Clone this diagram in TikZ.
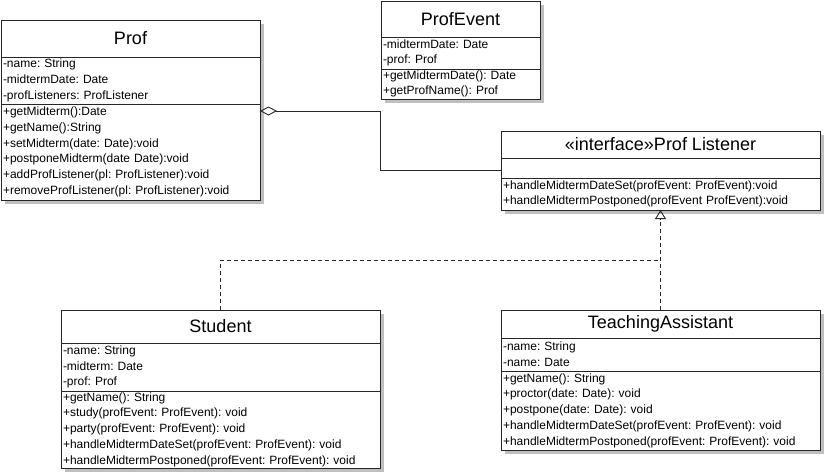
\documentclass[tikz,border=0pt]{standalone}
\usepackage{fontspec}
\setmainfont{Liberation Sans}
\usetikzlibrary{arrows.meta,positioning,shadows}

\newcommand{\titlefont}{\fontsize{18}{20}\selectfont}
\newcommand{\memberfont}{\fontsize{12}{15.7}\selectfont\frenchspacing}

\begin{document}
\begin{tikzpicture}[
    x=1pt, y=-1pt,
    umlbox/.style={draw=black!85, line width=0.9pt, fill=white, inner sep=0pt, outer sep=0pt,
        drop shadow={shadow xshift=4pt, shadow yshift=-4pt, fill=black!25, opacity=1}},
    classname/.style={umlbox, anchor=north west, font=\titlefont},
    members/.style={umlbox, font=\memberfont, align=left, inner xsep=2pt},
    aggr/.style={{Diamond[open,length=17pt,width=9pt]}-, line width=0.9pt, draw=black!85},
    realize/.style={-{Triangle[open,length=9pt,width=11pt]}, line width=0.9pt, draw=black!85, dash pattern=on 4pt off 3pt}
]
    \useasboundingbox[fill=white] (0,0) rectangle (825,475);

    % Prof
    \node[classname, minimum width=259pt, minimum height=37pt] (profT) at (1,20) {Prof};
    \node[members, below=0pt of profT, text width=255pt, minimum height=47pt] (profA)
        {-name: String\\-midtermDate: Date\\-profListeners: ProfListener};
    \node[members, below=0pt of profA, text width=255pt, minimum height=96pt] (profM)
        {+getMidterm():Date\\+getName():String\\+setMidterm(date: Date):void\\+postponeMidterm(date Date):void\\+addProfListener(pl: ProfListener):void\\+removeProfListener(pl: ProfListener):void};

    % ProfEvent
    \node[classname, minimum width=159pt, minimum height=36pt] (evT) at (381,1) {ProfEvent};
    \node[members, below=0pt of evT, text width=155pt, minimum height=32pt] (evA)
        {-midtermDate: Date\\-prof: Prof};
    \node[members, below=0pt of evA, text width=155pt, minimum height=30pt] (evM)
        {+getMidtermDate(): Date\\+getProfName(): Prof};

    % Prof Listener
    \node[classname, minimum width=319pt, minimum height=27pt] (plT) at (501,131) {«interface»Prof Listener};
    \node[members, below=0pt of plT, text width=315pt, minimum height=20pt] (plA) {};
    \node[members, below=0pt of plA, text width=315pt, minimum height=32pt] (plM)
        {+handleMidtermDateSet(profEvent: ProfEvent):void\\+handleMidtermPostponed(profEvent ProfEvent):void};

    % Student
    \node[classname, minimum width=319pt, minimum height=33pt] (stT) at (61,310) {Student};
    \node[members, below=0pt of stT, text width=315pt, minimum height=48pt] (stA)
        {-name: String\\-midterm: Date\\-prof: Prof};
    \node[members, below=0pt of stA, text width=315pt, minimum height=77pt] (stM)
        {+getName(): String\\+study(profEvent: ProfEvent): void\\+party(profEvent: ProfEvent): void\\+handleMidtermDateSet(profEvent: ProfEvent): void\\+handleMidtermPostponed(profEvent: ProfEvent): void};

    % TeachingAssistant
    \node[classname, minimum width=319pt, minimum height=28pt] (taT) at (501,310) {TeachingAssistant};
    \node[members, below=0pt of taT, text width=315pt, minimum height=33pt] (taA)
        {-name: String\\-name: Date};
    \node[members, below=0pt of taA, text width=315pt, minimum height=79pt] (taM)
        {+getName(): String\\+proctor(date: Date): void\\+postpone(date: Date): void\\+handleMidtermDateSet(profEvent: ProfEvent): void\\+handleMidtermPostponed(profEvent: ProfEvent): void};

    \coordinate (join) at (taT.north |- 0,260);

    \draw[aggr] ([yshift=-7pt]profM.north east) -- ++(120,0) |- ([yshift=-2pt]plA.west);
    \draw[realize] (taT.north) -- (plM.south);
    \draw[realize, -] (stT.north) |- (join);
\end{tikzpicture}
\end{document}
